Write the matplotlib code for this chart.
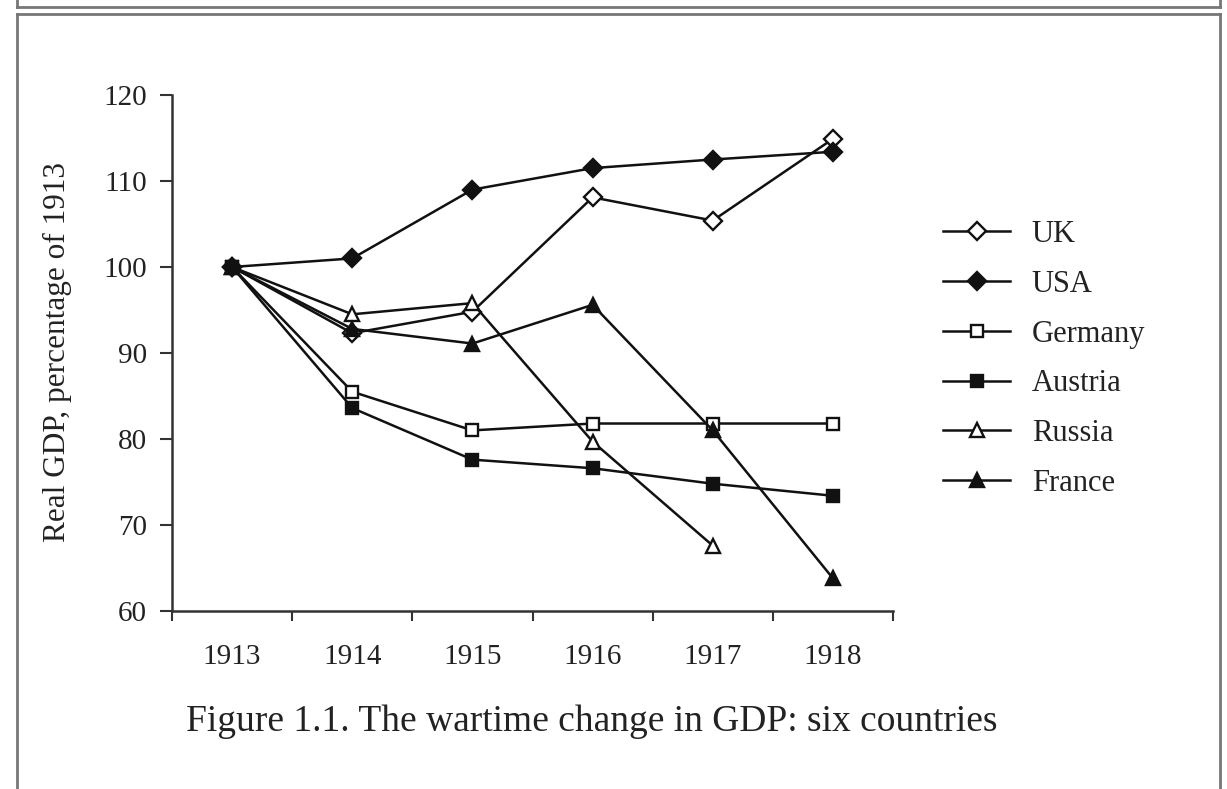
import matplotlib
matplotlib.use("Agg")
import matplotlib.pyplot as plt
from matplotlib.lines import Line2D

plt.rcParams['font.family'] = ['Liberation Serif', 'DejaVu Serif']

years = ['1913', '1914', '1915', '1916', '1917', '1918']
uk = [100, 92.3, 94.8, 108.1, 105.4, 114.9]
usa = [100, 101.0, 109.0, 111.5, 112.5, 113.4]
germany = [100, 85.5, 81.0, 81.8, 81.8, 81.8]
austria = [100, 83.6, 77.6, 76.6, 74.8, 73.4]
russia = [100, 94.5, 95.8, 79.7, 67.6]
france = [100, 92.8, 91.1, 95.6, 81.0, 63.8]

W, H = 1227, 789
fig = plt.figure(figsize=(W / 100, H / 100), dpi=100)

def fx(px):
    return px / W

def fy(py):
    return 1 - py / H

# frame boxes (scanned page look)
frame = dict(color='#777777', lw=2, transform=fig.transFigure)
fig.add_artist(Line2D([fx(17), fx(1220)], [fy(7), fy(7)], **frame))
fig.add_artist(Line2D([fx(17), fx(17)], [fy(0), fy(7)], **frame))
fig.add_artist(Line2D([fx(1220), fx(1220)], [fy(0), fy(7)], **frame))
fig.add_artist(Line2D([fx(17), fx(1220)], [fy(14), fy(14)], **frame))
fig.add_artist(Line2D([fx(17), fx(17)], [fy(14), fy(789)], **frame))
fig.add_artist(Line2D([fx(1220), fx(1220)], [fy(14), fy(789)], **frame))

ax = fig.add_axes([fx(172), fy(611), fx(893) - fx(172), fy(95) - fy(611)])

x = list(range(len(years)))
ink = '#111111'
series = [
    ('UK', uk, 'D', 'white', 9.5),
    ('USA', usa, 'D', ink, 9.5),
    ('Germany', germany, 's', 'white', 8.5),
    ('Austria', austria, 's', ink, 8.5),
    ('Russia', russia, '^', 'white', 10.5),
    ('France', france, '^', ink, 10.5),
]
for name, vals, mk, face, ms in series:
    ax.plot(x[:len(vals)], vals, color=ink, lw=1.8, marker=mk, markersize=ms,
            markerfacecolor=face, markeredgecolor=ink, markeredgewidth=1.7,
            label=name)

ax.set_xlim(-0.5, 5.5)
ax.set_ylim(60, 120)
ax.set_yticks([60, 70, 80, 90, 100, 110, 120])
ax.set_xticks(x)
ax.set_xticklabels(years)
ax.set_xticks([i - 0.5 for i in range(len(years) + 1)], minor=True)
ax.tick_params(axis='x', which='major', length=0, pad=24, labelsize=21, labelcolor='#222222')
ax.tick_params(axis='x', which='minor', length=7, width=1.5, direction='out', color='#333333')
ax.tick_params(axis='y', length=9, width=1.5, direction='out', pad=9, labelsize=21,
               labelcolor='#222222', color='#333333')

for s in ['top', 'right']:
    ax.spines[s].set_visible(False)
for s in ['left', 'bottom']:
    ax.spines[s].set_linewidth(1.8)
    ax.spines[s].set_color('#333333')

fig.text(fx(57), fy(352), 'Real GDP, percentage of 1913', rotation=90,
         ha='center', va='center', fontsize=22.5, color='#222222')

fig.legend(loc='upper left', bbox_to_anchor=(fx(943), fy(220)), frameon=False,
           fontsize=22, handlelength=2.2, handletextpad=0.7, labelspacing=0.68,
           borderpad=0, borderaxespad=0, labelcolor='#222222')

fig.text(fx(592), fy(722), 'Figure 1.1. The wartime change in GDP: six countries',
         ha='center', va='center', fontsize=27, color='#222222')

fig.savefig('out.png', dpi=100)
